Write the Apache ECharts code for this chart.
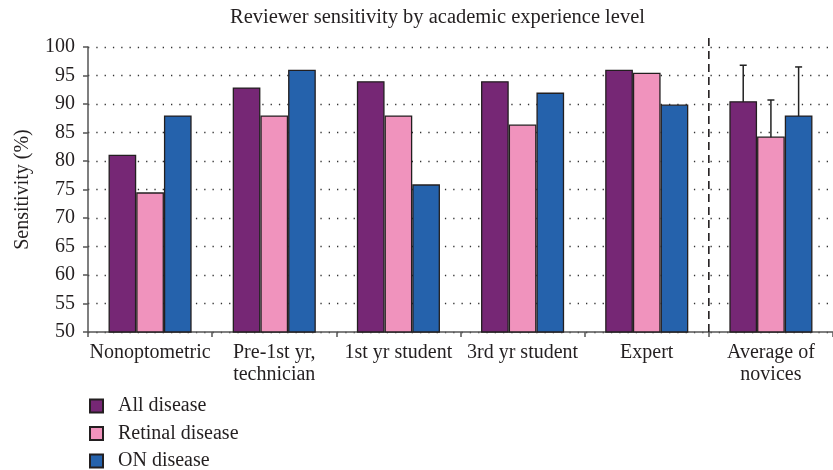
<!DOCTYPE html>
<html>
<head>
<meta charset="utf-8">
<script src="https://cdn.jsdelivr.net/npm/echarts@6/dist/echarts.min.js"></script>
<style>
  html, body { margin: 0; padding: 0; background: #fff; }
  #chart { width: 833px; height: 470px; }
</style>
</head>
<body>
<div id="chart"></div>
<script>
// Reviewer groups (x categories)
const categories = ['Nonoptometric', 'Pre-1st yr,\ntechnician', '1st yr student', '3rd yr student', 'Expert', 'Average of\nnovices'];
// Sensitivity (%) for each disease type
const allDisease     = [81.1, 92.9, 94.0, 94.0, 96.0, 90.5];
const retinalDisease = [74.5, 88.0, 88.0, 86.4, 95.5, 84.3];
const onDisease      = [88.0, 96.0, 75.9, 92.0, 89.9, 88.0];
// Spread of the novice average (last category only)
const avgErrors = [6.3, 6.4, 8.5];
const avgIndex = 5;
// Y axis range and step
const yMin = 50, yMax = 100, yStep = 5;
// Boundary between individual groups and the novice average
const separatorAt = 5;

const seriesNames = ['All disease', 'Retinal disease', 'ON disease'];
const seriesData = [allDisease, retinalDisease, onDisease];
const colors = ['#762775', '#F093BD', '#2562AC'];

const FONT = 'Liberation Serif';
const TEXT = '#231f20';
const BAR_W = 27.7;

const chart = echarts.init(document.getElementById('chart'), null, { renderer: 'canvas' });

const barSeries = seriesNames.map((name, i) => ({
  name,
  type: 'bar',
  xAxisIndex: 0,
  yAxisIndex: 0,
  data: seriesData[i],
  barWidth: BAR_W,
  barGap: '0%',
  z: 3,
  itemStyle: { color: colors[i], borderColor: '#231f20', borderWidth: 1.3 },
  emphasis: { disabled: true }
}));

// error bars drawn behind the bars (only the upper half remains visible)
const errData = avgErrors.map((e, i) => [avgIndex, seriesData[i][avgIndex], e, i]);
const errSeries = {
  type: 'custom',
  xAxisIndex: 0,
  yAxisIndex: 0,
  z: 2,
  silent: true,
  data: errData,
  renderItem: function (params, api) {
    const cat = api.value(0), v = api.value(1), e = api.value(2), k = api.value(3);
    const top = api.coord([cat, v + e]);
    const bot = api.coord([cat, v - e]);
    const x = top[0] + (k - 1) * BAR_W;
    const cap = 3.5;
    const style = { stroke: '#222', lineWidth: 1.5 };
    return {
      type: 'group',
      children: [
        { type: 'line', shape: { x1: x, y1: top[1], x2: x, y2: bot[1] }, style },
        { type: 'line', shape: { x1: x - cap, y1: top[1], x2: x + cap, y2: top[1] }, style },
        { type: 'line', shape: { x1: x - cap, y1: bot[1], x2: x + cap, y2: bot[1] }, style }
      ]
    };
  }
};

// dashed vertical separator before the novice average
const sepSeries = {
  type: 'custom',
  xAxisIndex: 1,
  yAxisIndex: 0,
  z: 4,
  silent: true,
  clip: false,
  data: [[separatorAt]],
  renderItem: function (params, api) {
    const x = api.value(0);
    const p1 = api.coord([x, yMax]);
    const p2 = api.coord([x, yMin]);
    return {
      type: 'line',
      shape: { x1: p1[0], y1: p1[1] - 9, x2: p2[0], y2: p2[1] + 5 },
      style: { stroke: '#231f20', lineWidth: 1.6, lineDash: [8, 5] }
    };
  }
};

chart.setOption({
  animation: false,
  backgroundColor: '#fff',
  textStyle: { fontFamily: FONT, color: TEXT },
  title: {
    text: 'Reviewer sensitivity by academic experience level',
    left: 230,
    top: 7,
    padding: 0,
    textStyle: { fontFamily: FONT, fontSize: 20.5, fontWeight: 'normal', color: TEXT }
  },
  legend: {
    orient: 'vertical',
    left: 89,
    top: 396,
    height: 120,
    padding: 0,
    itemWidth: 13,
    itemHeight: 13,
    itemGap: 7.5,
    icon: 'rect',
    data: seriesNames,
    textStyle: { fontFamily: FONT, fontSize: 20, lineHeight: 20, color: TEXT, padding: [0, 0, 0, 10] }
  },
  grid: { left: 88, top: 47, width: 752, height: 285, containLabel: false },
  xAxis: [
    {
      type: 'category',
      data: categories,
      boundaryGap: true,
      axisLine: { lineStyle: { color: '#555', width: 1.5 } },
      axisTick: { show: true, length: 5, alignWithLabel: false, lineStyle: { color: '#555', width: 1.5 } },
      axisLabel: { fontFamily: FONT, fontSize: 20, color: TEXT, margin: 10, lineHeight: 22, interval: 0 },
      splitLine: { show: false }
    },
    {
      type: 'value',
      min: 0,
      max: categories.length,
      show: false
    }
  ],
  yAxis: {
    type: 'value',
    min: yMin,
    max: yMax,
    interval: yStep,
    name: 'Sensitivity (%)',
    nameLocation: 'middle',
    nameGap: 55,
    nameTextStyle: { fontFamily: FONT, fontSize: 20, color: TEXT },
    axisLine: { show: true, lineStyle: { color: '#555', width: 1.5 } },
    axisTick: { show: true, length: 5, lineStyle: { color: '#555', width: 1.5 } },
    axisLabel: { fontFamily: FONT, fontSize: 20, color: TEXT, margin: 13 },
    splitLine: { show: true, lineStyle: { color: '#333', width: 1.3, type: [1.3, 7] } }
  },
  series: [...barSeries, errSeries, sepSeries]
});
</script>
</body>
</html>
